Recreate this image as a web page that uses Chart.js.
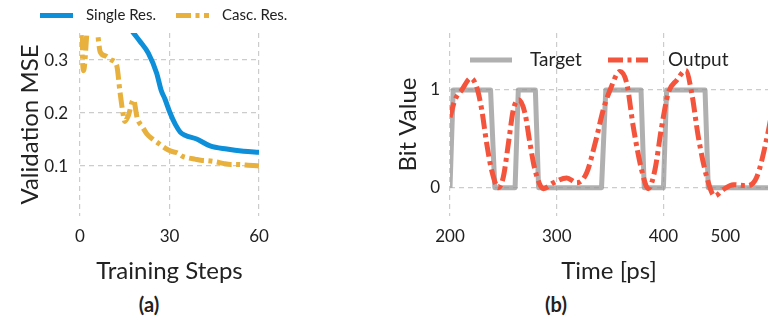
<!DOCTYPE html>
<html>
<head>
<meta charset="utf-8">
<script src="https://cdn.jsdelivr.net/npm/chart.js@4"></script>
<style>
  html, body { margin: 0; padding: 0; background: #fff; }
  body { width: 768px; height: 321px; position: relative; overflow: hidden; font-family: Lato, sans-serif; }
  .panel { position: absolute; top: 0; width: 384px; height: 290px; }
  .caption { position: absolute; top: 292px; width: 40px; margin-left: -20px; text-align: center; font-weight: bold; font-size: 20px; color: #222; }
</style>
</head>
<body>
<div class="panel" style="left:0"><canvas id="loss-chart" width="384" height="290"></canvas></div>
<div class="panel" style="left:384px"><canvas id="bit-chart" width="384" height="290"></canvas></div>
<div class="caption" style="left:149px">(a)</div>
<div class="caption" style="left:556px">(b)</div>
<script>
// (a) 학습 곡선 데이터
const stepTicks = [0, 30, 60];
const mseTicks = [0.1, 0.2, 0.3];
const singleSteps = [15, 17.7, 20, 22.9, 25.7, 27.2, 28.5, 30.2, 32, 33.6, 35.2, 39.1, 43.6, 49.2, 54.8, 60];
const singleMse = [0.375, 0.353, 0.336, 0.313, 0.275, 0.243, 0.226, 0.2, 0.178, 0.164, 0.158, 0.151, 0.138, 0.132, 0.128, 0.126];
const cascSteps = [0, 1.2, 2.6, 4, 5.5, 6.8, 8.5, 10.5, 12.3, 13.4, 14.4, 15, 16.2, 17.9, 19.2, 20.8, 22.5, 24.5, 26.5, 28.5, 30.5, 32.5, 34.5, 36.5, 38.5, 40.5, 43, 45.5, 48, 50.5, 53, 55.5, 58, 60];
const cascMse = [0.4, 0.28, 0.37, 0.4, 0.37, 0.315, 0.308, 0.3, 0.29, 0.24, 0.2, 0.184, 0.195, 0.225, 0.19, 0.175, 0.16, 0.15, 0.142, 0.134, 0.128, 0.125, 0.118, 0.115, 0.113, 0.111, 0.11, 0.108, 0.105, 0.103, 0.103, 0.102, 0.101, 0.1];

// (b) 비트 파형 데이터
const timeTicks = [200, 300, 400, 458];
const timeTickLabels = ["200", "300", "400", "500"];
const bitTicks = [0, 1];
const targetTime = [200, 203, 238, 242, 261, 264, 280, 283, 342, 346, 379, 382, 400, 403, 439, 442, 500];
const targetBits = [0, 1, 1, 0, 0, 1, 1, 0, 0, 1, 1, 0, 0, 1, 1, 0, 0];
const outputTime = [200, 204.7, 211, 219.5, 225, 229.7, 234.4, 239, 245.3, 250, 254.7, 259.4, 264.5, 270.3, 275, 279.7, 287.5, 296.9, 309.4, 318.7, 328, 335.9, 343.7, 350, 359.3, 365.6, 371.8, 379.6, 385.8, 392, 398.3, 404.6, 412.5, 421, 426.5, 432.7, 440.6, 448, 456, 465.5, 478, 487.5, 496.8, 503];
const outputBits = [0.72, 0.9, 1.0, 1.12, 1.03, 0.8, 0.45, 0.18, 0.0, 0.11, 0.45, 0.8, 0.9, 0.76, 0.45, 0.18, -0.01, 0.05, 0.1, 0.05, 0.15, 0.45, 0.8, 1.0, 1.19, 1.07, 0.62, 0.18, -0.01, 0.18, 0.62, 0.97, 1.1, 1.2, 0.97, 0.52, 0.11, -0.085, -0.02, 0.03, 0.02, 0.11, 0.5, 0.85];

const TEXT = "#222";
const GRID = "#cccccc";
const BLUE = "#0d8fd9";
const YELLOW = "#e8b03c";
const RED = "#f4533c";
const GRAY = "rgba(150, 150, 150, 0.75)";
const DASHDOT = [15, 4.5, 4, 4.5];
const GRID_DASH = [5, 4];

Chart.defaults.font.family = "Lato, sans-serif";
Chart.defaults.color = TEXT;

function toPoints(xs, ys) {
  return xs.map((x, i) => ({ x: x, y: ys[i] }));
}

// 범례를 직접 그림 (선 샘플 + 글자)
const lineLegend = {
  id: "lineLegend",
  afterDraw(chart, args, opts) {
    const ctx = chart.ctx;
    ctx.save();
    opts.items.forEach((item) => {
      ctx.beginPath();
      ctx.lineWidth = item.width;
      ctx.strokeStyle = item.color;
      ctx.lineCap = "butt";
      ctx.setLineDash(item.dash || []);
      ctx.moveTo(item.x, opts.y);
      ctx.lineTo(item.x + item.len, opts.y);
      ctx.stroke();
      ctx.setLineDash([]);
      ctx.fillStyle = TEXT;
      ctx.font = opts.font;
      ctx.textBaseline = "middle";
      ctx.fillText(item.text, item.textX, opts.y);
    });
    ctx.restore();
  },
};

function fixTicks(values) {
  return function (scale) {
    scale.ticks = values.map((v) => ({ value: v }));
  };
}

const gridBase = { color: GRID, lineWidth: 1.2, drawTicks: false };
const borderBase = { display: false, dash: GRID_DASH };

// (a) 검증 MSE 차트
new Chart(document.getElementById("loss-chart"), {
  type: "line",
  plugins: [lineLegend],
  data: {
    datasets: [
      {
        label: "Single Res.",
        data: toPoints(singleSteps, singleMse),
        borderColor: BLUE,
        borderWidth: 5,
        pointRadius: 0,
        cubicInterpolationMode: "monotone",
        borderJoinStyle: "round",
        clip: 0,
        order: 1,
      },
      {
        label: "Casc. Res.",
        data: toPoints(cascSteps, cascMse),
        borderColor: YELLOW,
        borderWidth: 5,
        borderDash: DASHDOT,
        borderCapStyle: "butt",
        pointRadius: 0,
        cubicInterpolationMode: "monotone",
        borderJoinStyle: "round",
        clip: 0,
        order: 2,
      },
    ],
  },
  options: {
    responsive: false,
    animation: false,
    layout: { padding: { top: 33, left: 0, right: 125, bottom: 0 } },
    scales: {
      x: {
        type: "linear",
        min: 0,
        max: 60,
        afterBuildTicks: fixTicks(stepTicks),
        afterFit: (scale) => { scale.height = 74; },
        grid: gridBase,
        border: borderBase,
        ticks: { font: { size: 17 }, padding: 10, maxRotation: 0, autoSkip: false },
        title: { display: true, text: "Training Steps", font: { size: 24 }, padding: { bottom: 4 } },
      },
      y: {
        min: 0.0057,
        max: 0.351,
        afterBuildTicks: fixTicks(mseTicks),
        afterFit: (scale) => { scale.width = 80; },
        grid: gridBase,
        border: borderBase,
        ticks: { font: { size: 17 }, padding: 12, callback: (v) => v.toFixed(1) },
        title: { display: true, text: "Validation MSE", font: { size: 24 }, padding: { top: 16 } },
      },
    },
    plugins: {
      legend: { display: false },
      tooltip: { enabled: false },
      lineLegend: {
        y: 15.5,
        font: "15px Lato, sans-serif",
        items: [
          { text: "Single Res.", color: BLUE, width: 5, x: 40, len: 33, textX: 86 },
          { text: "Casc. Res.", color: YELLOW, width: 5, dash: DASHDOT, x: 176, len: 33, textX: 222 },
        ],
      },
    },
  },
});

// (b) 비트 파형 차트
new Chart(document.getElementById("bit-chart"), {
  type: "line",
  plugins: [lineLegend],
  data: {
    datasets: [
      {
        label: "Target",
        data: toPoints(targetTime, targetBits),
        borderColor: GRAY,
        borderWidth: 5,
        pointRadius: 0,
        tension: 0,
        borderJoinStyle: "round",
        clip: 0,
        order: 2,
      },
      {
        label: "Output",
        data: toPoints(outputTime, outputBits),
        borderColor: RED,
        borderWidth: 5,
        borderDash: DASHDOT,
        borderCapStyle: "butt",
        pointRadius: 0,
        cubicInterpolationMode: "monotone",
        borderJoinStyle: "round",
        clip: 0,
        order: 1,
      },
    ],
  },
  options: {
    responsive: false,
    animation: false,
    layout: { padding: { top: 33, left: 0, right: 0, bottom: 0 } },
    scales: {
      x: {
        type: "linear",
        min: 200,
        max: 498,
        afterBuildTicks: fixTicks(timeTicks),
        afterFit: (scale) => { scale.height = 74; },
        grid: {
          ...gridBase,
          color: (c) => (c.index < 3 ? GRID : "rgba(0,0,0,0)"),
        },
        border: borderBase,
        ticks: {
          font: { size: 17 },
          padding: 10,
          maxRotation: 0,
          autoSkip: false,
          callback: (v, i) => timeTickLabels[i],
        },
        title: { display: true, text: "Time [ps]", font: { size: 24 }, padding: { bottom: 4 } },
      },
      y: {
        min: -0.29,
        max: 1.583,
        afterBuildTicks: fixTicks(bitTicks),
        afterFit: (scale) => { scale.width = 66; },
        grid: gridBase,
        border: borderBase,
        ticks: { font: { size: 17 }, padding: 10, callback: (v) => String(v) },
        title: { display: true, text: "Bit Value", font: { size: 24 }, padding: { top: 10 } },
      },
    },
    plugins: {
      legend: { display: false },
      tooltip: { enabled: false },
      lineLegend: {
        y: 60,
        font: "19px Lato, sans-serif",
        items: [
          { text: "Target", color: GRAY, width: 5, x: 86, len: 42, textX: 146 },
          { text: "Output", color: RED, width: 5, dash: DASHDOT, x: 224, len: 40, textX: 284 },
        ],
      },
    },
  },
});
</script>
</body>
</html>
